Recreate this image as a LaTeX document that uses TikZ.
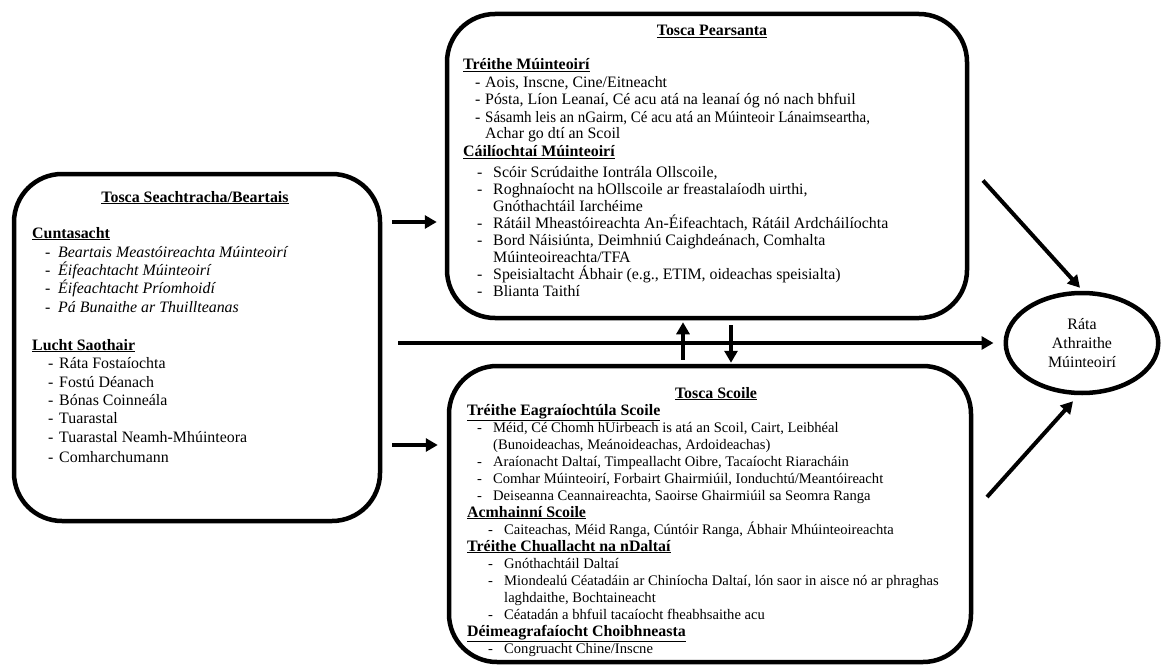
\documentclass[tikz,border=0pt]{standalone}
\usepackage{fontspec}
\setmainfont{Liberation Serif}
\usetikzlibrary{arrows.meta,shapes.geometric}

\tikzset{
  panel/.style={draw, line width=4.5pt, rounded corners=48pt, inner sep=0pt},
  ln/.style={anchor=base west, inner sep=0pt, font=\fontsize{15.9}{17}\selectfont},
  hd/.style={anchor=base west, inner sep=0pt, font=\fontsize{15.9}{17}\selectfont\bfseries},
  ttl/.style={anchor=base, inner sep=0pt, font=\fontsize{15.9}{17}\selectfont\bfseries},
  arr/.style={line width=4pt, -{Triangle[length=12pt,width=13pt]}},
}

% dash + item text: name, dash x, text x, baseline y, text
\newcommand\bulletline[5]{%
  \node[ln] (#1d) at (#2,#4) {-};
  \node[ln] (#1) at (#3,#4) {#5};}
% continuation line of an item
\newcommand\contline[4]{\node[ln] (#1) at (#2,#3) {#4};}

\begin{document}
\begin{tikzpicture}[x=1pt,y=-1pt]
\useasboundingbox (0,0) rectangle (1161,666);

% ---- panels and outcome ----
\node[panel, minimum width=366pt, minimum height=347pt] (lft) at (197,347.5) {};
\node[panel, minimum width=520pt, minimum height=304pt] (top) at (707,166) {};
\node[panel, minimum width=522pt, minimum height=296pt] (bot) at (710,514) {};
\node[draw, ellipse, line width=4.5pt, minimum width=152.5pt, minimum height=100pt,
      inner sep=0pt, align=center, font=\fontsize{15.9}{19}\selectfont] (rate) at (1082,343)
      {Ráta\\Athraithe\\Múinteoirí};

% ---- external / policy factors ----
\node[ttl] (lt) at (195,202) {\underline{Tosca Seachtracha/Beartais}};
\node[hd] (lh1) at (32,238) {\underline{Cuntasacht}};
\bulletline{l1}{45}{58}{257}{\itshape Beartais Meastóireachta Múinteoirí}
\bulletline{l2}{45}{58}{275}{\itshape Éifeachtacht Múinteoirí}
\bulletline{l3}{45}{58}{293}{\itshape Éifeachtacht Príomhoidí}
\bulletline{l4}{45}{58}{312}{\itshape Pá Bunaithe ar Thuillteanas}
\node[hd] (lh2) at (32,350) {\underline{Lucht Saothair}};
\bulletline{l5}{48}{59}{368}{Ráta Fostaíochta}
\bulletline{l6}{48}{59}{387}{Fostú Déanach}
\bulletline{l7}{48}{59}{405}{Bónas Coinneála}
\bulletline{l8}{48}{59}{423}{Tuarastal}
\bulletline{l9}{48}{59}{442}{Tuarastal Neamh-Mhúinteora}
\bulletline{l10}{48}{59}{462}{Comharchumann}

% ---- personal factors ----
\node[ttl] (tt) at (712,36) {\underline{Tosca Pearsanta}};
\node[hd] (th1) at (463,70) {\underline{Tréithe Múinteoirí}};
\bulletline{t1}{475}{485}{88}{Aois, Inscne, Cine/Eitneacht}
\bulletline{t2}{475}{485}{105}{Pósta, Líon Leanaí, Cé acu atá na leanaí óg nó nach bhfuil}
\bulletline{t3}{475}{485}{122}{\scalebox{0.94}[1]{Sásamh leis an nGairm, Cé acu atá an Múinteoir Lánaimseartha,}}
\contline{t3b}{485}{139}{Achar go dtí an Scoil}
\node[hd] (th2) at (463,157) {\underline{Cáilíochtaí Múinteoirí}};
\bulletline{t4}{477}{493}{177}{Scóir Scrúdaithe Iontrála Ollscoile,}
\bulletline{t5}{477}{493}{194}{Roghnaíocht na hOllscoile ar freastalaíodh uirthi,}
\contline{t5b}{493}{211}{Gnóthachtáil Iarchéime}
\bulletline{t6}{477}{493}{228}{Rátáil Mheastóireachta An-Éifeachtach, Rátáil Ardcháilíochta}
\bulletline{t7}{477}{493}{245}{Bord Náisiúnta, Deimhniú Caighdeánach, Comhalta}
\contline{t7b}{493}{262}{Múinteoireachta/TFA}
\bulletline{t8}{477}{493}{279}{Speisialtacht Ábhair (e.g., ETIM, oideachas speisialta)}
\bulletline{t9}{477}{493}{296}{Blianta Taithí}

% ---- school factors (items set a little smaller) ----
\begin{scope}[ln/.style={anchor=base west, inner sep=0pt, font=\fontsize{14.6}{17}\selectfont}]
\node[ttl] (bt) at (716,398) {\underline{Tosca Scoile}};
\node[hd] (bh1) at (467,415) {\underline{Tréithe Eagraíochtúla Scoile}};
\bulletline{b1}{477}{493}{432}{Méid, Cé Chomh hUirbeach is atá an Scoil, Cairt, Leibhéal}
\contline{b1b}{493}{449}{(Bunoideachas, Meánoideachas, Ardoideachas)}
\bulletline{b2}{477}{493}{466}{Araíonacht Daltaí, Timpeallacht Oibre, Tacaíocht Riaracháin}
\bulletline{b3}{477}{493}{483}{Comhar Múinteoirí, Forbairt Ghairmiúil, Ionduchtú/Meantóireacht}
\bulletline{b4}{477}{493}{500}{Deiseanna Ceannaireachta, Saoirse Ghairmiúil sa Seomra Ranga}
\node[hd] (bh2) at (467,517) {\underline{Acmhainní Scoile}};
\bulletline{b5}{488}{504}{534}{Caiteachas, Méid Ranga, Cúntóir Ranga, Ábhair Mhúinteoireachta}
\node[hd] (bh3) at (467,551) {\underline{Tréithe Chuallacht na nDaltaí}};
\bulletline{b6}{488}{504}{568}{Gnóthachtáil Daltaí}
\bulletline{b7}{488}{504}{585}{Miondealú Céatadáin ar Chiníocha Daltaí, lón saor in aisce nó ar phraghas}
\contline{b7b}{504}{602}{laghdaithe, Bochtaineacht}
\bulletline{b8}{488}{504}{619}{Céatadán a bhfuil tacaíocht fheabhsaithe acu}
\node[hd] (bh4) at (467,636) {\underline{Déimeagrafaíocht Choibhneasta}};
\bulletline{b9}{488}{504}{653}{Congruacht Chine/Inscne}
\end{scope}

% ---- connectors ----
\coordinate (r1) at (0,222);
\coordinate (r2) at (0,445);
\coordinate (cup) at (683,0);
\coordinate (cdn) at (731,0);
\draw[arr, shorten <=10pt, shorten >=8pt] (lft.east |- r1) -- (top.west |- r1);
\draw[arr, shorten <=10pt, shorten >=9pt] (lft.east |- r2) -- (bot.west |- r2);
\draw[arr, shorten <=16pt, shorten >=10pt] (lft.east |- rate.west) -- (rate.west);
\draw[arr, shorten <=4pt, shorten >=2pt] (cup |- bot.north) -- (cup |- top.south);
\draw[arr, shorten <=5pt, shorten >=1pt] (cdn |- top.south) -- (cdn |- bot.north);
\draw[arr] ([shift={(13.75,14.5)}]top.east) -- ([shift={(-2,-3)}]rate.north);
\draw[arr] ([shift={(13.75,-17)}]bot.east) -- ([shift={(-9,6)}]rate.south);
\end{tikzpicture}
\end{document}
